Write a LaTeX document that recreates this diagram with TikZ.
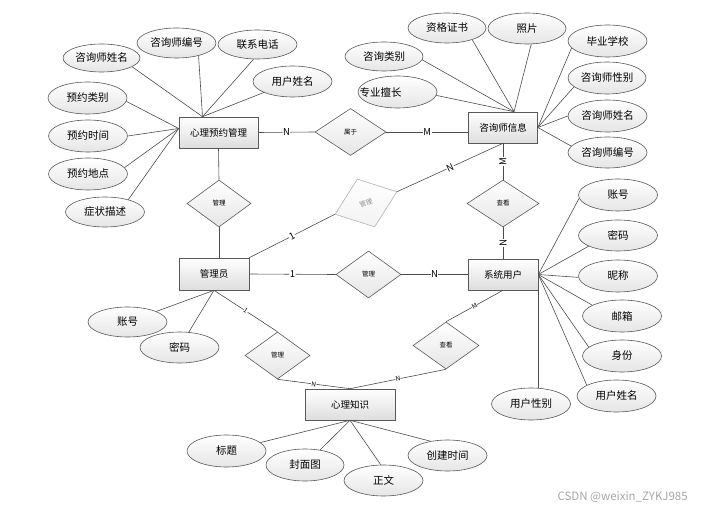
\documentclass[tikz,border=0pt]{standalone}
\usepackage{fontspec}
\setmainfont{Noto Sans CJK SC}
\usetikzlibrary{shapes.geometric}

\tikzset{
  entity/.style={draw=black!65, line width=0.6pt, rectangle, top color=white, bottom color=black!13, minimum width=70pt, minimum height=31pt, inner sep=0pt, font=\fontsize{9.5}{10}\selectfont},
  attr/.style={draw=black!65, line width=0.6pt, ellipse, top color=white, bottom color=black!10, minimum width=79pt, minimum height=31pt, inner sep=0pt, font=\fontsize{10.5}{11}\selectfont},
  rel/.style={draw=black!65, line width=0.6pt, diamond, top color=white, bottom color=black!10, minimum width=65pt, minimum height=47pt, inner sep=0pt, font=\fontsize{6.5}{7}\selectfont},
  link/.style={draw=black!70, line width=0.6pt},
  card/.style={fill=white, inner sep=0.5pt, sloped, font=\fontsize{9.5}{10}\selectfont},
  tinycard/.style={fill=white, inner sep=0.3pt, sloped, font=\fontsize{6.5}{7}\selectfont}
}

\begin{document}
\begin{tikzpicture}[x=1pt, y=-1pt]
            \useasboundingbox (0,0) rectangle (711,510);

            % Entities
            \node[entity, minimum width=79pt] (booking) at (218.5,132.5) {心理预约管理};
            \node[entity, minimum width=69pt] (counselor) at (503,127.5) {咨询师信息};
            \node[entity, minimum height=32pt] (admin) at (214,274) {管理员};
            \node[entity] (sysuser) at (503,274.5) {系统用户};
            \node[entity, minimum width=90pt] (knowledge) at (350,404.5) {心理知识};

            % Relations
            \node[rel, minimum width=71pt] (belong) at (350.5,132) {属于};
            \node[rel, minimum width=64pt] (manage1) at (219,203.5) {管理};
            \node[rel, draw=black!30, bottom color=black!5, text=black!45, minimum width=66pt, minimum height=51pt, rotate=20] (manage2) at (366,203) {管理};
            \node[rel, minimum width=72pt] (view1) at (503,203.5) {查看};
            \node[rel] (manage3) at (368.5,274.5) {管理};
            \node[rel] (manage4) at (277.5,355.5) {管理};
            \node[rel, minimum width=66pt] (view2) at (446,345.5) {查看};

            % Booking attributes
            \node[attr, minimum width=77pt, minimum height=28pt] (bk1) at (101.5,58) {咨询师姓名};
            \node[attr, minimum height=30pt] (bk2) at (176.5,43) {咨询师编号};
            \node[attr, minimum height=29pt] (bk3) at (257.5,44.5) {联系电话};
            \node[attr] (bk4) at (292.5,81.5) {用户姓名};
            \node[attr, minimum height=32pt] (bk5) at (87.5,98) {预约类别};
            \node[attr, minimum height=32pt] (bk6) at (88,136) {预约时间};
            \node[attr, minimum height=32pt] (bk7) at (88,174) {预约地点};
            \node[attr, minimum height=30pt] (bk8) at (105,212) {症状描述};

            % Counselor attributes
            \node[attr, minimum width=78pt, minimum height=30pt] (cs1) at (447,28) {资格证书};
            \node[attr, minimum width=78pt] (cs2) at (527,28.5) {照片};
            \node[attr, minimum width=78pt, minimum height=29pt] (cs3) at (384,56.5) {咨询类别};
            \node[attr, minimum height=32pt] (cs4) at (397.5,92) {\hspace*{-34pt}专业擅长};
            \node[attr, minimum height=32pt] (cs5) at (607.5,41) {毕业学校};
            \node[attr, minimum width=78pt, minimum height=32pt] (cs6) at (607,78) {咨询师性别};
            \node[attr, minimum height=32pt] (cs7) at (607.5,116) {咨询师姓名};
            \node[attr] (cs8) at (607.5,152.5) {咨询师编号};

            % System user attributes
            \node[attr, minimum height=32pt] (su1) at (618,195) {账号};
            \node[attr] (su2) at (618,235.5) {密码};
            \node[attr, minimum height=32pt] (su3) at (618,276) {昵称};
            \node[attr, minimum height=32pt] (su4) at (622,316) {邮箱};
            \node[attr, minimum height=32pt] (su5) at (622,356) {身份};
            \node[attr, minimum height=32pt] (su6) at (616.5,396) {用户姓名};
            \node[attr, minimum height=32pt] (su7) at (531,404) {用户性别};

            % Admin attributes
            \node[attr, minimum height=30pt] (ad1) at (127.5,322) {账号};
            \node[attr] (ad2) at (179.5,347.5) {密码};

            % Knowledge attributes
            \node[attr, minimum height=32pt] (kn1) at (226.5,451) {标题};
            \node[attr, minimum width=78pt, minimum height=32pt] (kn2) at (305,465) {封面图};
            \node[attr] (kn3) at (383.5,480.5) {正文};
            \node[attr] (kn4) at (447.5,455.5) {创建时间};

            % Attribute links
            \foreach \a/\ang in {bk1/344,bk2/330,bk3/255,bk4/201}
              \draw[link] (\a.\ang) -- ([xshift=-16pt]booking.north);
            \foreach \a/\ang in {bk5/355,bk6/0,bk7/10,bk8/28}
              \draw[link] (\a.\ang) -- ([yshift=4pt]booking.west);
            \foreach \a/\ang in {cs1/335,cs2/285,cs3/355,cs4/355}
              \draw[link] (\a.\ang) -- ([xshift=11pt]counselor.north);
            \foreach \a/\ang in {cs5/191,cs6/195,cs7/180,cs8/170}
              \draw[link] (\a.\ang) -- (counselor.east);
            \foreach \a/\ang in {su1/185,su2/200,su3/182,su4/160,su5/165,su6/160}
              \draw[link] (\a.\ang) -- (sysuser.east);
            \draw[link] (sysuser.south east) -- (sysuser.south east |- su7.north);
            \foreach \a in {ad1,ad2}
              \draw[link] (\a) -- (admin.south);
            \foreach \a/\ang in {kn1/14,kn2/45,kn3/100,kn4/140}
              \draw[link] (\a.\ang) -- (knowledge.south);

            % Relation links
            \draw[link] (booking.east) -- node[card] {N} (belong.west);
            \draw[link] (belong.east) -- node[card] {M} (belong.east -| counselor.west);
            \draw[link] (booking.south) -- (manage1.north);
            \draw[link] (manage1.south) -- (manage1.south |- admin.north);
            \draw[link] (admin.north east) -- node[card] {1} (manage2.west);
            \draw[link] (manage2.east) -- node[card] {N} (counselor.south);
            \draw[link] (view1.north) -- node[card] {M} (counselor.south);
            \draw[link] (view1.south) -- node[card] {N} (sysuser.north);
            \draw[link] (admin.east) -- node[card] {1} (manage3.west);
            \draw[link] (manage3.east) -- node[card] {N} (sysuser.west);
            \draw[link] (admin.south) -- node[tinycard] {1} (manage4.north);
            \draw[link] (manage4.south) -- node[tinycard] {N} (knowledge.north);
            \draw[link] (sysuser.south) -- node[tinycard] {M} (view2.north);
            \draw[link] (view2.south) -- node[tinycard] {N} (knowledge.north);

            % Watermark
            \node[anchor=west, text=black!35, font=\fontsize{11.5}{12}\selectfont] (mark) at (554,497) {CSDN @weixin\_ZYKJ985};

\end{tikzpicture}
\end{document}
